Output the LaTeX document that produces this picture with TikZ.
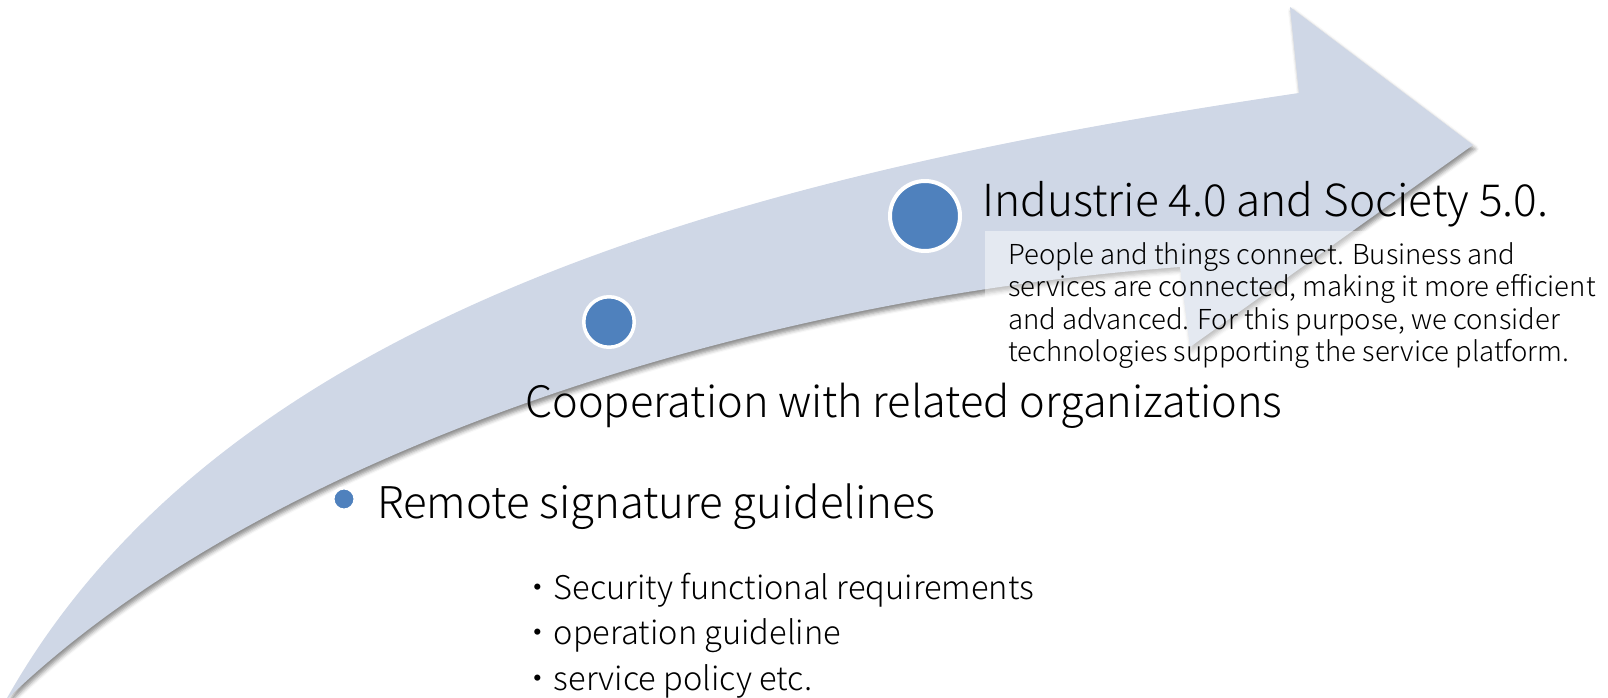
\documentclass[tikz,border=0pt]{standalone}
\usepackage{fontspec}
\setmainfont{Noto Sans CJK JP Light}
\usetikzlibrary{shadows.blur}
\definecolor{arrowfill}{HTML}{CFD7E6}
\definecolor{dotblue}{HTML}{4F81BD}
\tikzset{
  dot/.style={circle, fill=dotblue, draw=white, inner sep=0pt},
  lbl/.style={anchor=base west, inner sep=0pt, text=black}
}
\begin{document}
\begin{tikzpicture}[x=1pt,y=-1pt]
\useasboundingbox (0,0) rectangle (1608,698);
% curved arrow
\fill[arrowfill, blur shadow={shadow xshift=2pt, shadow yshift=-4pt, shadow blur radius=4pt, shadow opacity=45}]
  (6,700) .. controls (230,300) and (780,170) .. (1299,93)
  -- (1290,7) -- (1473,145) -- (1190,347) -- (1180,267)
  .. controls (740,300) and (260,455) .. (6,700) -- cycle;
% translucent text panel
\fill[white, fill opacity=0.45] (985,231) rectangle (1608,365);
% dots
\node[dot, line width=4pt, minimum size=70pt] (c3) at (925,216) {};
\node[dot, line width=3.5pt, minimum size=50.5pt] (c2) at (609,322) {};
\node[dot, line width=3pt, minimum size=22pt] (c1) at (344,499) {};
% texts
\node[lbl] (t3) at (982,216) {\resizebox{566pt}{!}{Industrie 4.0 and Society 5.0.}};
\node[lbl] (p3) at (1008,264) {\fontsize{27.5}{32.5}\selectfont\begin{tabular}[t]{@{}l@{}}
People and things connect. Business and\\
services are connected, making it more efficient\\
and advanced. For this purpose, we consider\\
technologies supporting the service platform.\end{tabular}};
\node[lbl] (t2) at (525,417) {\resizebox{757pt}{!}{Cooperation with related organizations}};
\node[lbl] (t1) at (377,518) {\resizebox{558pt}{!}{Remote signature guidelines}};
\node[lbl] (b1) at (521,599) {\fontsize{32.6}{45.5}\selectfont\begin{tabular}[t]{@{}l@{}}
・Security functional requirements\\
・operation guideline\\
・service policy etc.\end{tabular}};
\end{tikzpicture}
\end{document}
